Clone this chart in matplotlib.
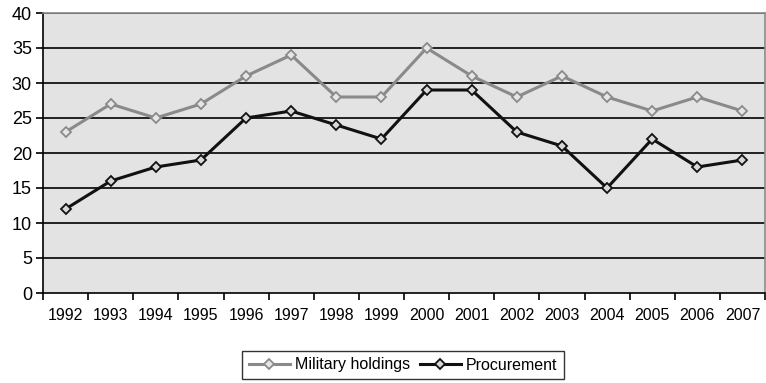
import matplotlib
matplotlib.use("Agg")
import matplotlib.pyplot as plt
import numpy as np

plt.rcParams['font.family'] = ['Liberation Sans', 'DejaVu Sans']

years = ['1992', '1993', '1994', '1995', '1996', '1997', '1998', '1999',
         '2000', '2001', '2002', '2003', '2004', '2005', '2006', '2007']
military_holdings = [23, 27, 25, 27, 31, 34, 28, 28, 35, 31, 28, 31, 28, 26, 28, 26]
procurement = [12, 16, 18, 19, 25, 26, 24, 22, 29, 29, 23, 21, 15, 22, 18, 19]

fig = plt.figure(figsize=(7.66, 3.83), dpi=100)
ax = fig.add_axes([43 / 766, 90 / 383, 722 / 766, 280 / 383])
ax.set_facecolor('#e3e3e3')

x = np.arange(len(years))
ax.plot(x, military_holdings, color='#8a8a8a', lw=2.2, marker='D', ms=5.5,
        mfc='#e6e6e6', mec='#8a8a8a', mew=1.3, label='Military holdings', zorder=3)
ax.plot(x, procurement, color='#111111', lw=2.2, marker='D', ms=5.5,
        mfc='#d8d8d8', mec='#111111', mew=1.3, label='Procurement', zorder=4)

ax.set_xlim(-0.5, len(years) - 0.5)
ax.set_ylim(0, 40)
ax.set_yticks(range(0, 41, 5))
for y in range(5, 41, 5):
    ax.axhline(y, color='black', lw=1.2, zorder=1)

# category labels centred, ticks on the boundaries
ax.set_xticks(x)
ax.set_xticklabels(years, fontsize=11.5)
ax.set_xticks(np.arange(-0.5, len(years)), minor=True)
ax.tick_params(axis='x', which='major', length=0, pad=11)
ax.tick_params(axis='x', which='minor', length=5, width=1.2, direction='out')
ax.tick_params(axis='y', length=5, width=1.2, direction='out', labelsize=13, pad=3)

for side in ['top', 'right']:
    ax.spines[side].set_color('#8a8a8a')
    ax.spines[side].set_linewidth(1.2)
ax.spines['left'].set_linewidth(1.2)
ax.spines['bottom'].set_linewidth(1.2)

leg = fig.legend(loc='center', bbox_to_anchor=(403 / 766, 1 - 365 / 383), ncol=2,
                 fontsize=11.5, frameon=True, fancybox=False, edgecolor='black',
                 handlelength=2.6, columnspacing=0.6, handletextpad=0.3,
                 borderpad=0.4)
leg.get_frame().set_linewidth(1.0)

fig.savefig('out.png', dpi=100)
